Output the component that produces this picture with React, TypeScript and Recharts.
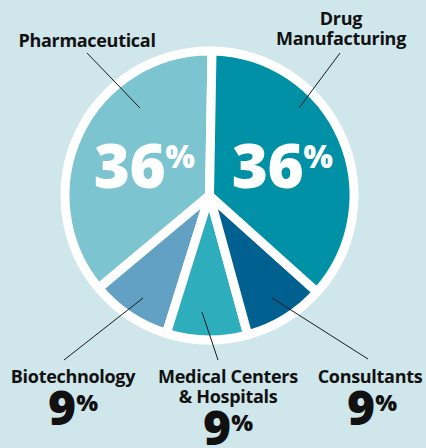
import { PieChart, Pie, Cell } from 'recharts';

// slice order: counter-clockwise from the top
const CATEGORIES = ['Pharmaceutical', 'Biotechnology', 'Medical Centers & Hospitals', 'Consultants', 'Drug Manufacturing'];
const LABEL_LINES = [['Pharmaceutical'], ['Biotechnology'], ['Medical Centers', '& Hospitals'], ['Consultants'], ['Drug', 'Manufacturing']];
const SHARES = [36, 9, 9, 9, 36];
const COLORS = ['#7cc4d0', '#62a0c4', '#2eadbd', '#00608f', '#0091a6'];

const data = CATEGORIES.map((name, i) => ({ name, value: SHARES[i] }));

// label layout: name position, percent position, leader line
const LAYOUT = [
    { nx: 87, ny: 47, px: 144, py: 188, big: true, line: [87, 53, 140, 108] },
    { nx: 73, ny: 383, px: 73, py: 425, big: false, line: [143, 298, 64, 360] },
    { nx: 228, ny: 383, px: 228, py: 445, big: false, line: [202, 312, 218, 360] },
    { nx: 370, ny: 383, px: 372, py: 425, big: false, line: [272, 298, 368, 359] },
    { nx: 341, ny: 25, px: 282, py: 188, big: true, line: [340, 53, 299, 108] },
];

const FONT = '"Open Sans", sans-serif';

const renderLabel = (props: any) => {
    const i = props.index;
    const l = LAYOUT[i];
    const [x1, y1, x2, y2] = l.line;
    return (
        <g key={`lbl-${i}`}>
            <line x1={x1} y1={y1} x2={x2} y2={y2} stroke="#1a1a1a" strokeWidth={1} />
            <text x={l.nx} y={l.ny} textAnchor="middle" fontFamily={FONT} fontWeight={700} fontSize={18} fill="#111" letterSpacing={-0.3}>
                {LABEL_LINES[i].map((t, k) => (
                    <tspan key={k} x={l.nx} dy={k === 0 ? 0 : 20}>{t}</tspan>
                ))}
            </text>
            {l.big ? (
                <text x={l.px} y={l.py} textAnchor="middle" fontFamily={FONT} fontWeight={800} fill="#fff" letterSpacing={-0.5}>
                    <tspan fontSize={62}>{SHARES[i]}</tspan>
                    <tspan fontSize={31} dy={-20}>%</tspan>
                </text>
            ) : (
                <text x={l.px} y={l.py} textAnchor="middle" fontFamily={FONT} fontWeight={800} fill="#111">
                    <tspan fontSize={48}>{SHARES[i]}</tspan>
                    <tspan fontSize={23} dy={-14}>%</tspan>
                </text>
            )}
        </g>
    );
};

export default function App() {
    return (
        <div style={{ position: 'absolute', left: 0, top: 0, width: 426, height: 448, background: '#cfe6eb' }}>
            <PieChart width={426} height={448} margin={{ top: 0, right: 0, bottom: 0, left: 0 }}>
                <Pie
                    data={data}
                    dataKey="value"
                    cx={209.5}
                    cy={195.5}
                    outerRadius={144.5}
                    startAngle={89}
                    endAngle={449}
                    stroke="#ffffff"
                    strokeWidth={9}
                    strokeLinejoin="round"
                    label={renderLabel}
                    labelLine={false}
                    isAnimationActive={false}
                >
                    {data.map((_d, i) => (
                        <Cell key={`cell-${i}`} fill={COLORS[i]} />
                    ))}
                </Pie>
            </PieChart>
        </div>
    );
}
